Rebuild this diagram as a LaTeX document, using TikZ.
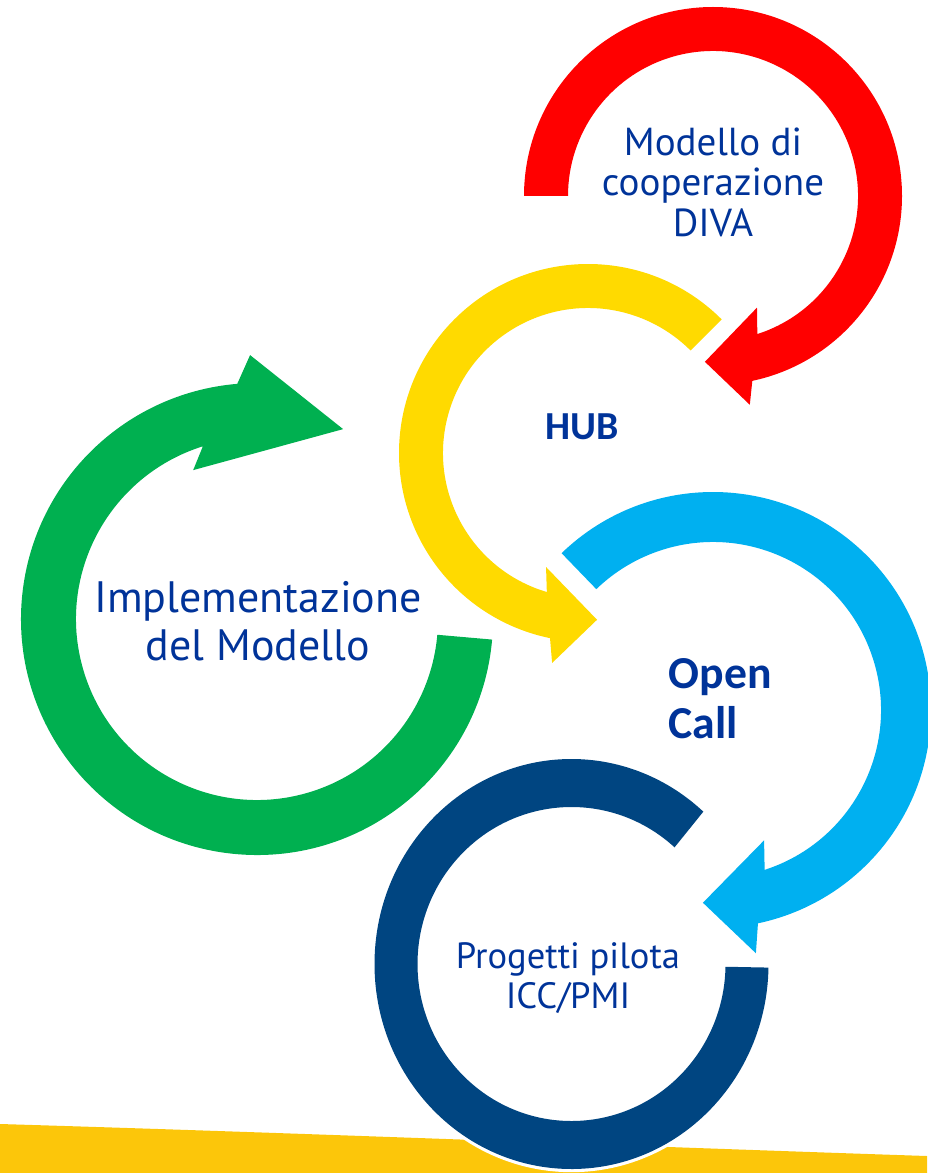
\documentclass[tikz,border=0pt]{standalone}
\usepackage{fontspec}
\setmainfont{PT Sans}
\newfontfamily\hubfont{Carlito}
\definecolor{ringred}{RGB}{255,0,0}
\definecolor{ringyellow}{RGB}{255,218,0}
\definecolor{ringgreen}{RGB}{0,176,80}
\definecolor{ringcyan}{RGB}{0,176,240}
\definecolor{ringnavy}{RGB}{0,69,129}
\definecolor{groundyellow}{RGB}{252,198,10}
\definecolor{textblue}{RGB}{0,51,153}
\begin{document}
\begin{tikzpicture}[x=0.01cm,y=0.01cm,
		ringtext/.style={text=textblue,inner sep=0pt,align=center},
		ringtextbold/.style={ringtext,font=\hubfont\bfseries}]
	\path[use as bounding box](0,0)rectangle(927,-1173);
	\fill[groundyellow](0,-1124)..controls(300,-1133)and(600,-1145)..(927,-1156)
		--(927,-1173)--(0,-1173)--cycle;
	\begin{scope}[shift={(257,-619)}]
		\fill[ringgreen](-5:236)arc[start angle=-5,end angle=-265.2,radius=236]
			--(91.5:264)--(65.6:208.5)--(113.2:162)--(107.4:181)
			arc[start angle=-252.6,end angle=-5,radius=181]--cycle;
	\end{scope}
	\begin{scope}[shift={(571.5,-964)}]
		\fill[ringnavy,preaction={draw=white,line width=1.8pt}]
			(-1:197 and 205)arc[start angle=-1,end angle=-312,x radius=197,y radius=205]
			--(48:154 and 157)arc[start angle=48,end angle=359,x radius=154,y radius=157]--cycle;
	\end{scope}
	\begin{scope}[shift={(713,-710)}]
		\fill[ringcyan](134:218)arc[start angle=134,end angle=-78.1,radius=218]
			--(-80:247)--(-93:193)--(-68.6:140)--(-72.1:168)
			arc[start angle=-72.1,end angle=134,radius=168]--cycle;
	\end{scope}
	\begin{scope}[shift={(588,-453)}]
		\fill[ringyellow](45:189)arc[start angle=45,end angle=258.4,radius=189]
			--(260.3:213)--(273.1:167)--(249.8:121.5)--(253.5:145)
			arc[start angle=253.5,end angle=45,radius=145]--cycle;
	\end{scope}
	\begin{scope}[shift={(713,-196)}]
		\fill[ringred](180:189)arc[start angle=180,end angle=-78,radius=189]
			--(-80:212)--(-92.8:166)--(-68.5:120)--(-72.2:145)
			arc[start angle=-72.2,end angle=180,radius=145]--cycle;
	\end{scope}
	\node[ringtext,anchor=base,font=\fontsize{11.1}{11.4}\selectfont](diva)at(713,-236){Modello di\\cooperazione\\DIVA};
	\node[ringtextbold,anchor=base,font=\hubfont\bfseries\fontsize{11.3}{14}\selectfont](hub)at(582,-439){HUB};
	\node[ringtext,anchor=base,font=\fontsize{12.5}{13.4}\selectfont](impl)at(258,-660){Implementazione\\del Modello};
	\node[ringtextbold,anchor=base west,align=left,font=\hubfont\bfseries\fontsize{13}{14.2}\selectfont](call)at(668,-738){Open\\Call};
	\node[ringtext,anchor=base,font=\fontsize{10.4}{11.1}\selectfont](pilot)at(568,-1008){Progetti pilota\\ICC/PMI};
\end{tikzpicture}
\end{document}
